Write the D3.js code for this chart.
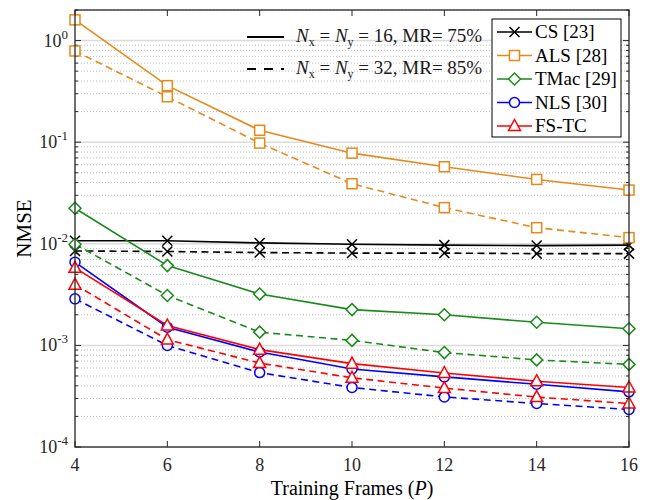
<!DOCTYPE html>
<html><head><meta charset="utf-8">
<script src="https://cdn.jsdelivr.net/npm/d3@7"></script>
<style>body{margin:0;background:#fff}svg{font-family:"Liberation Serif","DejaVu Serif","Times New Roman",serif}</style>
</head><body><svg id="c" width="647" height="500"></svg>
<script>
const frames = [4, 6, 8, 10, 12, 14, 16];
const xTicks = [4, 6, 8, 10, 12, 14, 16];
const yTickExps = [0, -1, -2, -3, -4];
const methods = ["CS [23]", "ALS [28]", "TMac [29]", "NLS [30]", "FS-TC"];
const colors = ["#000000", "#e6891a", "#1a8a1a", "#0000ff", "#ff0000"];
const markers = ["x", "square", "diamond", "circle", "triangle"];
// solid: Nx=Ny=16, MR=75%
const solidVals = [
  [0.0107, 0.0107, 0.0102, 0.0099, 0.0097, 0.0096, 0.0097],
  [1.6, 0.36, 0.131, 0.078, 0.0573, 0.043, 0.0338],
  [0.0224, 0.0061, 0.0032, 0.00225, 0.0020, 0.00169, 0.00146],
  [0.0066, 0.00151, 0.00086, 0.000586, 0.00049, 0.000415, 0.000349],
  [0.0058, 0.00157, 0.000908, 0.000661, 0.000535, 0.000444, 0.000385]
];
// dashed: Nx=Ny=32, MR=85%
const dashedVals = [
  [0.0085, 0.0084, 0.0082, 0.0081, 0.0081, 0.0080, 0.0080],
  [0.79, 0.28, 0.098, 0.039, 0.0227, 0.0144, 0.0115],
  [0.0099, 0.0031, 0.00135, 0.00112, 0.00085, 0.00072, 0.00065],
  [0.00287, 0.00100, 0.00054, 0.000385, 0.000311, 0.000268, 0.000234],
  [0.00396, 0.00114, 0.00067, 0.00048, 0.00038, 0.00031, 0.000268]
];
const styleLabels = ["16", "75%", "32", "85%"];

const svg = d3.select("#c");
const m = {l: 75, r: 18, t: 10, b: 53};
const W = 647, H = 500;
const x = d3.scaleLinear().domain([4, 16]).range([m.l, W - m.r]);
const y = d3.scaleLog().domain([1e-4, 2]).range([H - m.b, m.t]);
const x0 = m.l, x1 = W - m.r, y0 = H - m.b, y1 = m.t;

// grid
const minor = [];
for (let e = -4; e <= 0; e++) for (let k = 2; k <= 9; k++) { const v = k * Math.pow(10, e); if (v <= 2) minor.push(v); }
const g = svg.append("g");
g.selectAll(".mn").data(minor).join("line")
  .attr("x1", x0).attr("x2", x1).attr("y1", d => y(d)).attr("y2", d => y(d))
  .attr("stroke", "#bdbdbd").attr("stroke-width", 1).attr("stroke-dasharray", "1,2");
g.selectAll(".mj").data(yTickExps.map(e => Math.pow(10, e))).join("line")
  .attr("x1", x0).attr("x2", x1).attr("y1", d => y(d)).attr("y2", d => y(d))
  .attr("stroke", "#dcdcdc").attr("stroke-width", 1.5);

// ticks
const tk = svg.append("g").attr("stroke", "#262626").attr("stroke-width", 1);
xTicks.forEach(v => {
  tk.append("line").attr("x1", x(v)).attr("x2", x(v)).attr("y1", y0).attr("y2", y0 - 6);
  tk.append("line").attr("x1", x(v)).attr("x2", x(v)).attr("y1", y1).attr("y2", y1 + 6);
});
yTickExps.forEach(e => {
  const v = Math.pow(10, e);
  tk.append("line").attr("x1", x0).attr("x2", x0 + 6).attr("y1", y(v)).attr("y2", y(v));
  tk.append("line").attr("x1", x1).attr("x2", x1 - 6).attr("y1", y(v)).attr("y2", y(v));
});
minor.forEach(v => {
  tk.append("line").attr("x1", x0).attr("x2", x0 + 3).attr("y1", y(v)).attr("y2", y(v));
  tk.append("line").attr("x1", x1).attr("x2", x1 - 3).attr("y1", y(v)).attr("y2", y(v));
});

// tick labels
xTicks.forEach(v => {
  svg.append("text").attr("x", x(v)).attr("y", y0 + 24).attr("text-anchor", "middle")
    .attr("font-size", 18).attr("fill", "#262626").text(v);
});
yTickExps.forEach(e => {
  const t = svg.append("text").attr("x", x0 - 7).attr("y", y(Math.pow(10, e)) + 6)
    .attr("text-anchor", "end").attr("font-size", 18).attr("fill", "#262626");
  t.append("tspan").text("10");
  t.append("tspan").attr("dy", -8).attr("font-size", 13).text(e);
});

// axis titles
svg.append("text").attr("x", (x0 + x1) / 2).attr("y", 495).attr("text-anchor", "middle")
  .attr("font-size", 20).attr("fill", "#000")
  .call(t => { t.append("tspan").text("Training Frames ("); t.append("tspan").attr("font-style", "italic").text("P"); t.append("tspan").text(")"); });
svg.append("text").attr("transform", `translate(31,${(y0 + y1) / 2}) rotate(-90)`)
  .attr("text-anchor", "middle").attr("font-size", 21).attr("fill", "#000").text("NMSE");

// markers
function drawMarker(sel, type, cx, cy, color) {
  const s = sel.append("g").attr("fill", "none").attr("stroke", color).attr("stroke-width", 1.5);
  if (type === "x") {
    s.append("path").attr("d", `M${cx-5},${cy-5}L${cx+5},${cy+5}M${cx-5},${cy+5}L${cx+5},${cy-5}`);
  } else if (type === "square") {
    s.append("rect").attr("x", cx - 5).attr("y", cy - 5).attr("width", 10).attr("height", 10).attr("fill", "#fff");
  } else if (type === "diamond") {
    s.append("path").attr("d", `M${cx},${cy-6}L${cx+6},${cy}L${cx},${cy+6}L${cx-6},${cy}Z`).attr("fill", "#fff");
  } else if (type === "circle") {
    s.append("circle").attr("cx", cx).attr("cy", cy).attr("r", 5).attr("fill", "#fff");
  } else if (type === "triangle") {
    s.append("path").attr("d", `M${cx},${cy-6.5}L${cx+6},${cy+4.5}L${cx-6},${cy+4.5}Z`).attr("fill", "#fff");
  }
}

const line = d3.line().x((d, i) => x(frames[i])).y(d => y(d));
const plot = svg.append("g");
methods.forEach((name, k) => {
  [[solidVals[k], null], [dashedVals[k], "7,4.5"]].forEach(([vals, dash]) => {
    plot.append("path").attr("d", line(vals)).attr("fill", "none").attr("stroke", colors[k])
      .attr("stroke-width", 1.6).attr("stroke-dasharray", dash);
  });
});
methods.forEach((name, k) => {
  [solidVals[k], dashedVals[k]].forEach(vals => {
    vals.forEach((v, i) => drawMarker(plot, markers[k], x(frames[i]), y(v), colors[k]));
  });
});

// frame
svg.append("rect").attr("x", x0).attr("y", y1).attr("width", x1 - x0).attr("height", y0 - y1)
  .attr("fill", "none").attr("stroke", "#262626").attr("stroke-width", 1.3);

// line-style annotation
const ann = svg.append("g");
[[37, null, 0], [69, "9,8", 2]].forEach(([yy, dash, j]) => {
  ann.append("line").attr("x1", 247).attr("x2", 284).attr("y1", yy).attr("y2", yy)
    .attr("stroke", "#000").attr("stroke-width", 2.2).attr("stroke-dasharray", dash);
  const t = ann.append("text").attr("x", 296).attr("y", yy + 5).attr("font-size", 19).attr("fill", "#1a1a1a");
  t.append("tspan").attr("font-style", "italic").text("N");
  t.append("tspan").attr("font-size", 12).attr("dy", 4).text("x");
  t.append("tspan").attr("dy", -4).text(" = ");
  t.append("tspan").attr("font-style", "italic").text("N");
  t.append("tspan").attr("font-size", 12).attr("dy", 4).text("y");
  t.append("tspan").attr("dy", -4).text(` = ${styleLabels[j]}, MR= ${styleLabels[j + 1]}`);
});

// legend
const lg = svg.append("g");
lg.append("rect").attr("x", 492).attr("y", 19).attr("width", 129).attr("height", 118)
  .attr("fill", "#fff").attr("stroke", "#000").attr("stroke-width", 1);
methods.forEach((name, k) => {
  const yy = 32 + k * 23.5;
  lg.append("line").attr("x1", 497).attr("x2", 532).attr("y1", yy).attr("y2", yy)
    .attr("stroke", colors[k]).attr("stroke-width", 1.5);
  drawMarker(lg, markers[k], 514.5, yy, colors[k]);
  lg.append("text").attr("x", 535).attr("y", yy + 6).attr("font-size", 19).attr("fill", "#000").text(name);
});
</script></body></html>
